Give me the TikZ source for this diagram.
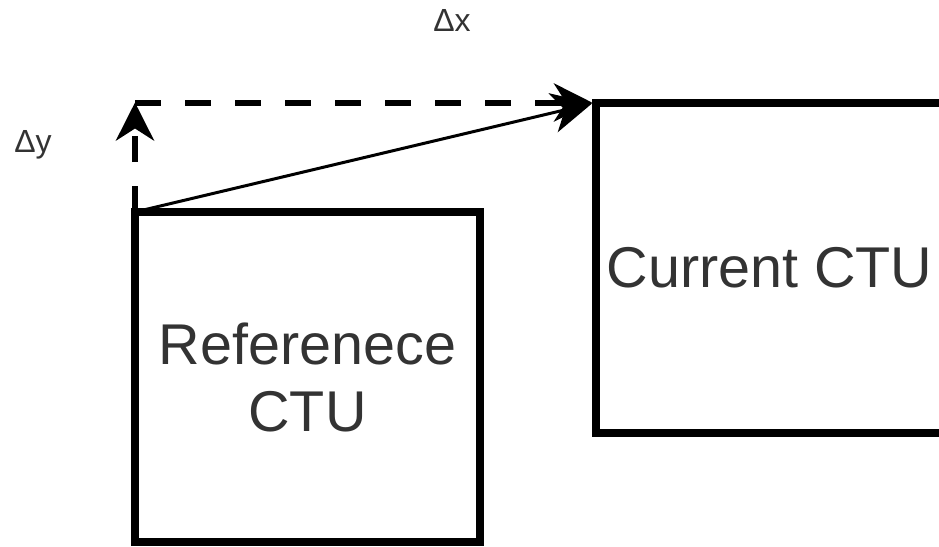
\documentclass[tikz,border=0pt]{standalone}
\usepackage{fontspec}
\setmainfont{Liberation Sans}
\usepackage{xcolor}
\usetikzlibrary{
    arrows.meta,
    calc
}
\definecolor{txtgray}{HTML}{333333}
\tikzset{ctubox/.style={rectangle, draw=black, line width=8pt, outer sep=0pt,
        minimum width=345pt, minimum height=330pt, align=center, text=txtgray,
        font=\fontsize{57.5}{67}\selectfont}}
\tikzset{dlbl/.style={inner sep=0pt, text=txtgray, font=\fontsize{32}{38}\selectfont}}
\tikzset{dashmv/.style={line width=6pt, dash pattern=on 26pt off 24pt,
        -{Stealth[length=38pt, width=38pt, inset=12pt]}}}

\begin{document}
\begin{tikzpicture}[x=1pt, y=-1pt]
                                            \useasboundingbox (0, 0) rectangle (939, 546);
                                            \node[ctubox] (ref) at (307.5, 377) {Referenece\\CTU};
                                            \node[ctubox, minimum width=347pt] (cur) at (769.5, 267.5) {Current CTU};
                                            \coordinate (crn) at (ref.north west |- cur.north west);
                                            \node[dlbl] (dx) at (452, 20) {Δx};
                                            \node[dlbl] (dy) at (33, 145) {Δy};
                                            \draw[dashmv] (ref.north west) -- (crn);
                                            \draw[dashmv, shorten >=4pt] (crn) -- (cur.north west);
                                            \draw[line width=3pt, -{Stealth[length=40pt, width=40pt, inset=12pt]}, shorten >=4pt]
                                            (ref.north west) -- (cur.north west);
                                        \end{tikzpicture}
\end{document}
